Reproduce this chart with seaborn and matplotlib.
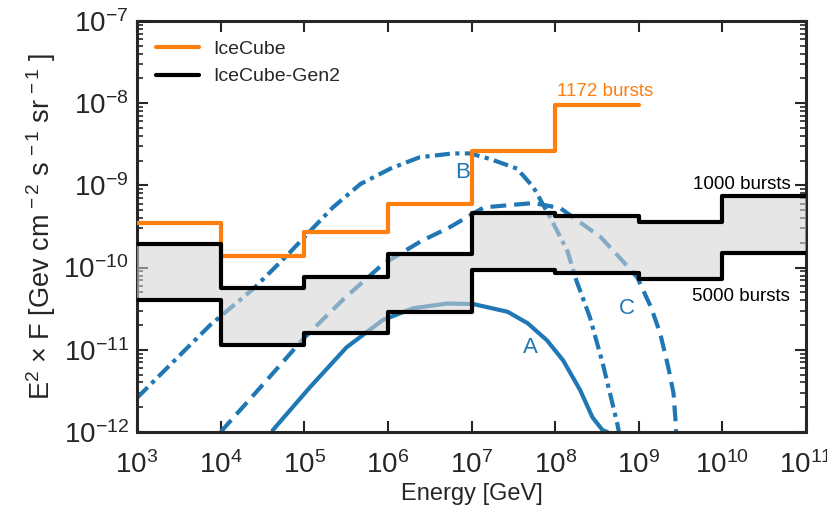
import numpy as np
import pandas as pd
import matplotlib
matplotlib.use("Agg")
import matplotlib.pyplot as plt
import seaborn as sns
from matplotlib.ticker import LogLocator, LogFormatterMathtext, NullLocator

# ---------------- data ----------------
icecube_edges = [1e3, 1e4, 1e5, 1e6, 1e7, 1e8, 1e9]
icecube_vals = [3.5e-10, 1.4e-10, 2.7e-10, 6.0e-10, 2.6e-9, 9.5e-9]

gen2_edges = [1e3, 1e4, 1e5, 1e6, 1e7, 1e8, 1e9, 1e10, 1e11]
gen2_1000 = [1.95e-10, 5.6e-11, 7.6e-11, 1.45e-10, 4.6e-10, 4.2e-10, 3.6e-10, 7.5e-10]
gen2_5000 = [4.0e-11, 1.14e-11, 1.6e-11, 2.9e-11, 9.3e-11, 8.5e-11, 7.2e-11, 1.5e-10]

model_A_E = [4.2e4, 1.17e5, 3.2e5, 8.7e5, 2e6, 5.1e6, 1.05e7, 2.7e7, 4.7e7, 8e7, 1.25e8, 2e8, 2.8e8, 3.7e8, 4.2e8]
model_A_F = [1.05e-12, 3.5e-12, 1.07e-11, 2.3e-11, 3.2e-11, 3.65e-11, 3.6e-11, 2.9e-11, 2.1e-11, 1.3e-11, 7.4e-12, 3.2e-12, 1.5e-12, 1.05e-12, 1e-12]

model_B_E = [1e3, 7.5e3, 2.5e4, 6.2e4, 1.26e5, 2.2e5, 4.7e5, 1.07e6, 2.4e6, 6e6, 9.6e6, 1.66e7, 3.5e7, 5.5e7, 8.7e7, 1.4e8, 1.8e8, 2.6e8, 3.7e8, 5.5e8, 5.8e8]
model_B_F = [2.6e-12, 2.0e-11, 5.6e-11, 1.4e-10, 3.0e-10, 5.4e-10, 1.04e-9, 1.6e-9, 2.2e-9, 2.45e-9, 2.45e-9, 2.1e-9, 1.6e-9, 9.5e-10, 4.1e-10, 1.6e-10, 6.9e-11, 2.5e-11, 6.9e-12, 1.3e-12, 1e-12]

model_C_E = [1e4, 3e4, 1e5, 3e5, 8.7e5, 2.5e6, 5.5e6, 1.4e7, 5.5e7, 1.15e8, 3.5e8, 6e8, 9.6e8, 1.4e9, 1.8e9, 2.25e9, 2.6e9, 2.75e9, 2.8e9]
model_C_F = [1e-12, 3.5e-12, 1.4e-11, 4.2e-11, 1.1e-10, 2.1e-10, 3.1e-10, 5.4e-10, 6.1e-10, 5.3e-10, 2.35e-10, 1.3e-10, 7.6e-11, 3.3e-11, 1.6e-11, 6.2e-12, 3e-12, 1.4e-12, 1e-12]

labels_text = ["A", "B", "C"]

# ---------------- style ----------------
sns.set_style("ticks")
plt.rcParams["font.family"] = ["Liberation Sans", "DejaVu Sans"]
plt.rcParams["mathtext.fontset"] = "custom"
plt.rcParams["mathtext.rm"] = "Liberation Sans"
plt.rcParams["mathtext.it"] = "Liberation Sans:italic"
plt.rcParams["mathtext.bf"] = "Liberation Sans:bold"

BLUE = "#1f77b4"
ORANGE = "#ff7f0e"

fig = plt.figure(figsize=(8.28, 5.13), dpi=100)
ax = fig.add_axes([0.1655, 0.158, 0.8079, 0.801])
ax.set_xscale("log")
ax.set_yscale("log")


def step_df(edges, vals):
    return pd.DataFrame({"E": edges, "F": list(vals) + [vals[-1]]})


lw = 3.0
# model curves (drawn first, under the band)
sns.lineplot(data=pd.DataFrame({"E": model_A_E, "F": model_A_F}), x="E", y="F",
             ax=ax, color=BLUE, lw=lw, sort=False, zorder=2)
lB = sns.lineplot(data=pd.DataFrame({"E": model_B_E, "F": model_B_F}), x="E", y="F",
                  ax=ax, color=BLUE, lw=lw, sort=False, zorder=2).lines[-1]
lB.set_dashes([3.6, 1.3, 1.0, 1.3])
lC = sns.lineplot(data=pd.DataFrame({"E": model_C_E, "F": model_C_F}), x="E", y="F",
                  ax=ax, color=BLUE, lw=lw, sort=False, zorder=2).lines[-1]
lC.set_dashes([3.8, 1.9])

# gray band
ax.fill_between(gen2_edges, list(gen2_1000) + [gen2_1000[-1]],
                list(gen2_5000) + [gen2_5000[-1]], step="post",
                color="#d3d3d3", alpha=0.57, lw=0, zorder=3)

# step lines
sns.lineplot(data=step_df(icecube_edges, icecube_vals), x="E", y="F", ax=ax,
             color=ORANGE, lw=lw, drawstyle="steps-post", sort=False, zorder=4,
             label="IceCube")
sns.lineplot(data=step_df(gen2_edges, gen2_1000), x="E", y="F", ax=ax,
             color="black", lw=lw, drawstyle="steps-post", sort=False, zorder=4,
             label="IceCube-Gen2")
sns.lineplot(data=step_df(gen2_edges, gen2_5000), x="E", y="F", ax=ax,
             color="black", lw=lw, drawstyle="steps-post", sort=False, zorder=4)

ax.set_xlim(1e3, 1e11)
ax.set_ylim(1e-12, 1e-7)

# ticks
ax.xaxis.set_major_locator(LogLocator(base=10, numticks=20))
ax.xaxis.set_minor_locator(NullLocator())
ax.yaxis.set_major_locator(LogLocator(base=10, numticks=20))
ax.yaxis.set_minor_locator(LogLocator(base=10, subs=np.arange(2, 10), numticks=20))
ax.xaxis.set_major_formatter(LogFormatterMathtext())
ax.yaxis.set_major_formatter(LogFormatterMathtext())
ax.tick_params(which="major", direction="in", length=8, width=1.5,
               top=True, right=True, labelsize=20)
ax.tick_params(axis="x", which="major", pad=14)
ax.tick_params(axis="y", which="major", pad=6)
ax.tick_params(which="minor", direction="in", length=4, width=1.2,
               top=True, right=True)
for s in ax.spines.values():
    s.set_linewidth(2.2)
    s.set_visible(True)

ax.set_xlabel("Energy [GeV]", fontsize=17, labelpad=3)
ax.set_ylabel(r"E$^{2}$ × F [Gev cm$^{\,-2}$ s$^{\,-1}$ sr$^{\,-1}$ ]",
              fontsize=19.5, labelpad=4)

# annotations
ax.text(5e7, 1.07e-11, labels_text[0], color=BLUE, fontsize=16, ha="center", va="center")
ax.text(7.8e6, 1.43e-9, labels_text[1], color=BLUE, fontsize=16, ha="center", va="center")
ax.text(7.2e8, 3.2e-11, labels_text[2], color=BLUE, fontsize=16, ha="center", va="center")
ax.text(4e8, 1.4e-8, "1172 bursts", color=ORANGE, fontsize=13.5, ha="center", va="center")
ax.text(6.5e10, 1.02e-9, "1000 bursts", color="black", fontsize=13.5, ha="right", va="center")
ax.text(6.5e10, 4.5e-11, "5000 bursts", color="black", fontsize=13.5, ha="right", va="center")

leg = ax.legend(loc="upper left", frameon=False, fontsize=14, handlelength=2.2,
                handletextpad=0.7, borderaxespad=0.6, labelspacing=0.5)

fig.savefig("out.png", dpi=100)
